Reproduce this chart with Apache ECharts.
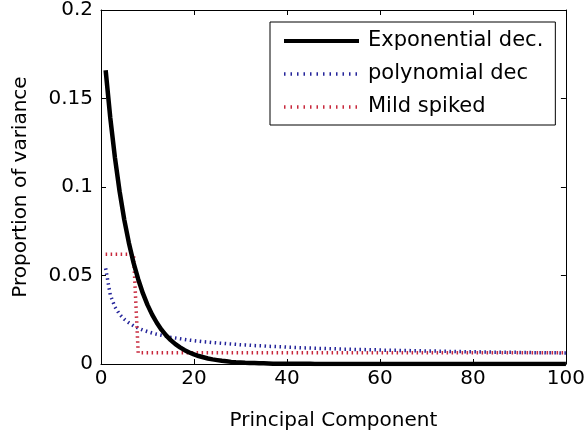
<!DOCTYPE html>
<html>
<head>
<meta charset="utf-8">
<script src="https://cdn.jsdelivr.net/npm/echarts@6/dist/echarts.min.js"></script>
<style>
html,body{margin:0;padding:0;background:#fff;}
#chart{width:588px;height:438px;}
</style>
</head>
<body>
<div id="chart"></div>
<script>
// Data (components 1..100)
const components = Array.from({length: 100}, (_, i) => i + 1);

const expDecay = [
  0.1660, 0.1390, 0.1165, 0.0975, 0.0816, 0.0684, 0.0572, 0.0479, 0.0400, 0.0334,
  0.0279, 0.0233, 0.0194, 0.0162, 0.0135, 0.0112, 0.0094, 0.0078, 0.0065, 0.0054,
  0.0045, 0.0038, 0.0031, 0.0026, 0.0022, 0.0018, 0.0015, 0.0012, 0.0010, 0.0009,
  0.0007, 0.0006, 0.0005, 0.0004, 0.0004, 0.0003, 0.0002, 0.0002, 0.0002, 0.0001,
  0.0001, 0.0001, 0.0001, 0.0001, 0.0001, 0, 0, 0, 0, 0,
  0, 0, 0, 0, 0, 0, 0, 0, 0, 0,
  0, 0, 0, 0, 0, 0, 0, 0, 0, 0,
  0, 0, 0, 0, 0, 0, 0, 0, 0, 0,
  0, 0, 0, 0, 0, 0, 0, 0, 0, 0,
  0, 0, 0, 0, 0, 0, 0, 0, 0, 0
];

const polyDecay = [
  0.0540, 0.0390, 0.0322, 0.0281, 0.0253, 0.0233, 0.0216, 0.0203, 0.0192, 0.0183,
  0.0175, 0.0168, 0.0162, 0.0156, 0.0151, 0.0147, 0.0143, 0.0139, 0.0135, 0.0132,
  0.0129, 0.0126, 0.0124, 0.0121, 0.0119, 0.0117, 0.0115, 0.0113, 0.0111, 0.0109,
  0.0108, 0.0106, 0.0104, 0.0103, 0.0102, 0.0100, 0.0099, 0.0098, 0.0097, 0.0095,
  0.0094, 0.0093, 0.0092, 0.0091, 0.0090, 0.0089, 0.0088, 0.0088, 0.0087, 0.0086,
  0.0085, 0.0084, 0.0084, 0.0083, 0.0082, 0.0082, 0.0081, 0.0080, 0.0080, 0.0079,
  0.0078, 0.0078, 0.0077, 0.0077, 0.0076, 0.0076, 0.0075, 0.0075, 0.0074, 0.0073,
  0.0073, 0.0073, 0.0072, 0.0072, 0.0071, 0.0071, 0.0070, 0.0070, 0.0069, 0.0069,
  0.0069, 0.0068, 0.0068, 0.0067, 0.0067, 0.0067, 0.0066, 0.0066, 0.0066, 0.0065,
  0.0065, 0.0065, 0.0064, 0.0064, 0.0064, 0.0063, 0.0063, 0.0063, 0.0062, 0.0062
];

const mildSpiked = [
  0.062, 0.062, 0.062, 0.062, 0.062, 0.062, 0.062, 0.0063, 0.0063, 0.0063,
  0.0063, 0.0063, 0.0063, 0.0063, 0.0063, 0.0063, 0.0063, 0.0063, 0.0063, 0.0063,
  0.0063, 0.0063, 0.0063, 0.0063, 0.0063, 0.0063, 0.0063, 0.0063, 0.0063, 0.0063,
  0.0063, 0.0063, 0.0063, 0.0063, 0.0063, 0.0063, 0.0063, 0.0063, 0.0063, 0.0063,
  0.0063, 0.0063, 0.0063, 0.0063, 0.0063, 0.0063, 0.0063, 0.0063, 0.0063, 0.0063,
  0.0063, 0.0063, 0.0063, 0.0063, 0.0063, 0.0063, 0.0063, 0.0063, 0.0063, 0.0063,
  0.0063, 0.0063, 0.0063, 0.0063, 0.0063, 0.0063, 0.0063, 0.0063, 0.0063, 0.0063,
  0.0063, 0.0063, 0.0063, 0.0063, 0.0063, 0.0063, 0.0063, 0.0063, 0.0063, 0.0063,
  0.0063, 0.0063, 0.0063, 0.0063, 0.0063, 0.0063, 0.0063, 0.0063, 0.0063, 0.0063,
  0.0063, 0.0063, 0.0063, 0.0063, 0.0063, 0.0063, 0.0063, 0.0063, 0.0063, 0.0063
];

const seriesNames = ['Exponential dec.', 'polynomial dec', 'Mild spiked'];
const seriesColors = ['#000000', '#24249a', '#c8283c'];
const xTicks = [0, 20, 40, 60, 80, 100];
const yTicks = [0, 0.05, 0.1, 0.15, 0.2];

const pairs = vals => components.map((c, i) => [c, vals[i]]);

const FONT = 'DejaVu Sans';
const chart = echarts.init(document.getElementById('chart'), null, {renderer: 'canvas'});

const axisLineStyle = {show: true, onZero: false, lineStyle: {color: '#000', width: 1}};
const tickStyle = {show: true, inside: true, length: 5, lineStyle: {color: '#000', width: 1}};

const legendData = [
  {name: seriesNames[0], lineStyle: {width: 4, color: seriesColors[0], type: 'solid'}},
  {name: seriesNames[1], lineStyle: {width: 3.5, color: seriesColors[1], type: [1.5, 5]}},
  {name: seriesNames[2], lineStyle: {width: 3.5, color: seriesColors[2], type: [1.5, 5]}}
];

chart.setOption({
  animation: false,
  backgroundColor: '#fff',
  textStyle: {fontFamily: FONT},
  grid: {left: 101, right: 22, top: 9, bottom: 74, containLabel: false},
  legend: {
    orient: 'vertical',
    left: 270,
    top: 22,
    data: legendData,
    backgroundColor: '#fff',
    borderColor: '#000',
    borderWidth: 1,
    borderRadius: 0,
    padding: [8, 12, 7, 12],
    itemWidth: 75,
    itemHeight: 14,
    itemGap: 11,
    itemStyle: {opacity: 0},
    textStyle: {fontFamily: FONT, fontSize: 21, color: '#000', lineHeight: 22, padding: [0, 0, 0, 4]}
  },
  xAxis: [{
    type: 'value',
    min: xTicks[0], max: xTicks[xTicks.length - 1], interval: 20,
    name: 'Principal Component',
    nameLocation: 'middle',
    nameGap: 47,
    nameTextStyle: {fontFamily: FONT, fontSize: 20, color: '#000'},
    axisLine: axisLineStyle,
    axisTick: tickStyle,
    axisLabel: {fontFamily: FONT, fontSize: 20, color: '#000', margin: 5},
    splitLine: {show: false}
  }, {
    type: 'value', position: 'top',
    min: xTicks[0], max: xTicks[xTicks.length - 1], interval: 20,
    axisLine: axisLineStyle, axisTick: tickStyle,
    axisLabel: {show: false}, splitLine: {show: false}
  }],
  yAxis: [{
    type: 'value',
    min: yTicks[0], max: yTicks[yTicks.length - 1], interval: 0.05,
    name: 'Proportion of variance',
    nameLocation: 'middle',
    nameGap: 70,
    nameTextStyle: {fontFamily: FONT, fontSize: 20, color: '#000'},
    axisLine: axisLineStyle,
    axisTick: tickStyle,
    axisLabel: {fontFamily: FONT, fontSize: 20, color: '#000', margin: 8},
    splitLine: {show: false}
  }, {
    type: 'value', position: 'right',
    min: yTicks[0], max: yTicks[yTicks.length - 1], interval: 0.05,
    axisLine: axisLineStyle, axisTick: tickStyle,
    axisLabel: {show: false}, splitLine: {show: false}
  }],
  series: [{
    name: seriesNames[0], type: 'line', data: pairs(expDecay),
    showSymbol: false, symbol: 'none',
    lineStyle: {color: seriesColors[0], width: 4.5, type: 'solid'},
    itemStyle: {color: seriesColors[0]}, z: 3
  }, {
    name: seriesNames[1], type: 'line', data: pairs(polyDecay),
    showSymbol: false, symbol: 'none',
    lineStyle: {color: seriesColors[1], width: 3.5, type: [1.5, 3.5]},
    itemStyle: {color: seriesColors[1]}, z: 2
  }, {
    name: seriesNames[2], type: 'line', data: pairs(mildSpiked),
    showSymbol: false, symbol: 'none',
    lineStyle: {color: seriesColors[2], width: 3.5, type: [1.5, 3.5]},
    itemStyle: {color: seriesColors[2]}, z: 2
  }]
});
</script>
</body>
</html>
